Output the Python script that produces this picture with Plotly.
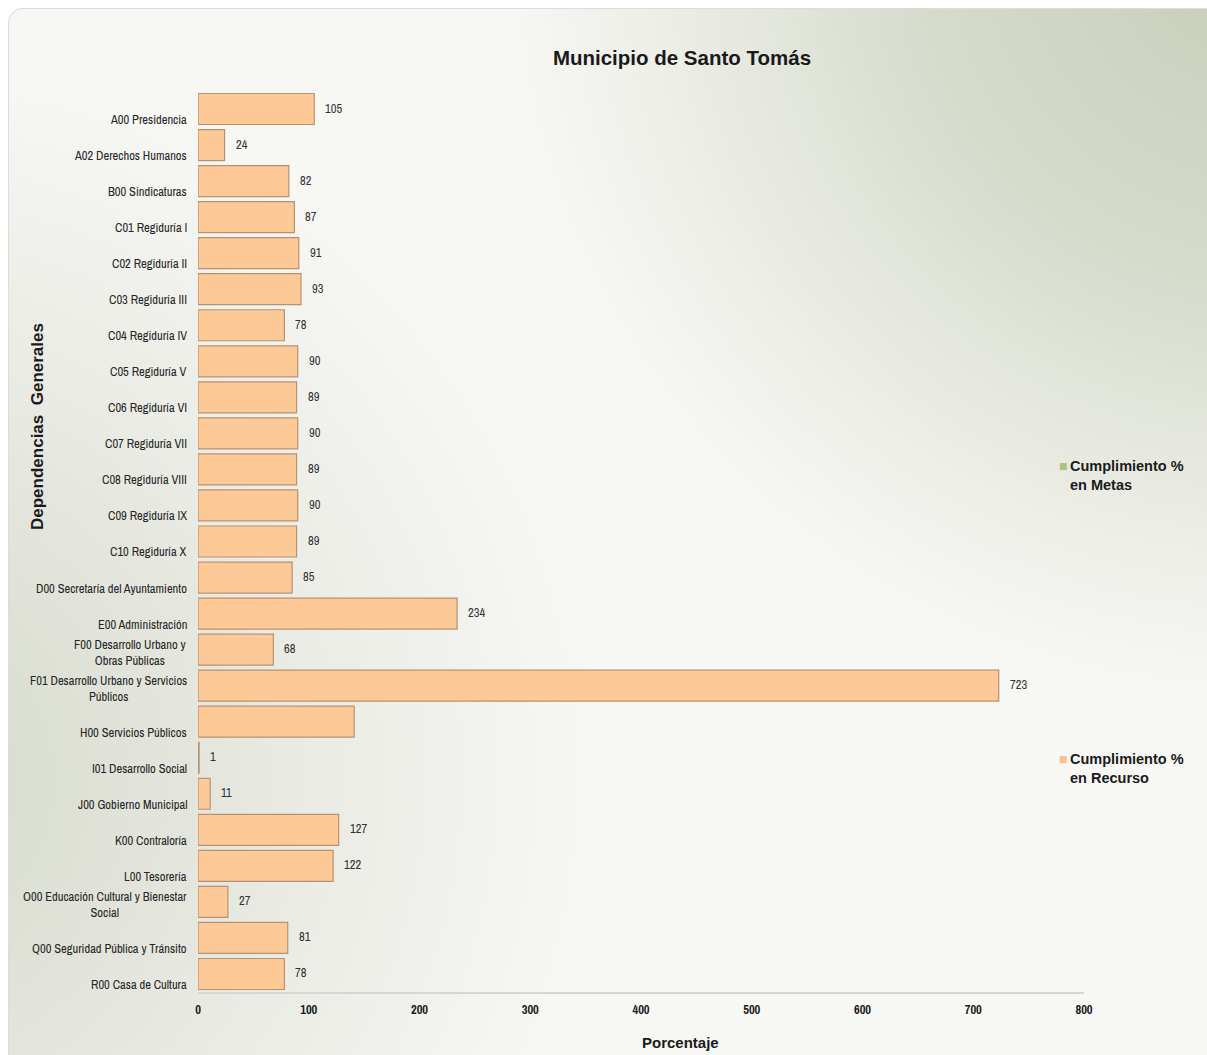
import base64
import plotly.graph_objects as go

# ---------------- data ----------------
categories = [
    "A00 Presidencia",
    "A02 Derechos Humanos",
    "B00 Sindicaturas",
    "C01 Regiduría I",
    "C02 Regiduría II",
    "C03 Regiduría III",
    "C04 Regiduría IV",
    "C05 Regiduría V",
    "C06 Regiduría VI",
    "C07 Regiduría VII",
    "C08 Regiduría VIII",
    "C09 Regiduría IX",
    "C10 Regiduría X",
    "D00 Secretaría del Ayuntamiento",
    "E00 Administración",
    "F00 Desarrollo Urbano y<br>Obras Públicas",
    "F01 Desarrollo Urbano y Servicios<br>Públicos",
    "H00 Servicios Públicos",
    "I01 Desarrollo Social",
    "J00 Gobierno Municipal",
    "K00 Contraloría",
    "L00 Tesorería",
    "O00 Educación Cultural y Bienestar<br>Social",
    "Q00 Seguridad Pública y Tránsito",
    "R00 Casa de Cultura",
]
recurso = [105, 24, 82, 87, 91, 93, 78, 90, 89, 90, 89, 90, 89, 85, 234, 68, 723,
           141, 1, 11, 127, 122, 27, 81, 78]
recurso_labels = ["105", "24", "82", "87", "91", "93", "78", "90", "89", "90", "89",
                  "90", "89", "85", "234", "68", "723", "", "1", "11", "127", "122",
                  "27", "81", "78"]
metas = [0, 0, 0, 0, 0, 0, 0, 0, 0, 0, 0, 0, 0, 0, 0, 0, 0, 0, 0, 0, 0, 0, 0, 0, 0]
x_ticks = [0, 100, 200, 300, 400, 500, 600, 700, 800]
series_names = ["Cumplimiento %<br>en Metas", "Cumplimiento %<br>en Recurso"]
title_text = "Municipio de Santo Tomás"
x_title = "Porcentaje"
y_title = "Dependencias  Generales"

# ---------------- layout geometry ----------------
W, H = 1207, 1055
L, R, T, B = 198, 123, 88, 63
PW, PH = W - L - R, H - T - B

def px_x(p):
    return (p - L) / PW

def px_y(p):
    return (H - B - p) / PH

NARROW = "Liberation Sans Narrow, Arial Narrow, Archivo Narrow, DejaVu Sans Condensed, sans-serif"
BOLD = "Liberation Sans, Arial, sans-serif"

svg = f"""<svg xmlns='http://www.w3.org/2000/svg' width='{W}' height='{H}' viewBox='0 0 {W} {H}'>
<defs>
<radialGradient id='g1' gradientUnits='userSpaceOnUse' cx='1260' cy='-60' r='760'>
<stop offset='0' stop-color='#c4cdb6'/><stop offset='0.45' stop-color='#d0d6c5' stop-opacity='0.85'/><stop offset='1' stop-color='#d8dccd' stop-opacity='0'/></radialGradient>
<radialGradient id='g2' gradientUnits='userSpaceOnUse' cx='-120' cy='780' r='720'>
<stop offset='0' stop-color='#d3d7c9'/><stop offset='1' stop-color='#d8dbcf' stop-opacity='0'/></radialGradient>
<clipPath id='c'><rect x='8.5' y='8.5' width='1240' height='1090' rx='14'/></clipPath>
</defs>
<g clip-path='url(#c)'>
<rect width='{W}' height='{H}' fill='#f7f7f4'/>
<rect width='{W}' height='{H}' fill='url(#g1)'/>
<rect width='{W}' height='{H}' fill='url(#g2)'/>
</g>
<rect x='8.5' y='8.5' width='1240' height='1090' rx='14' fill='none' stroke='#dcdcdc'/>
</svg>"""
svg_uri = "data:image/svg+xml;base64," + base64.b64encode(svg.encode("utf-8")).decode()

fig = go.Figure()

fig.add_trace(go.Bar(
    y=categories, x=metas, orientation="h", name="Cumplimiento % en Metas",
    marker=dict(color="#9bbb59", line=dict(width=0)), width=0.86,
    showlegend=False, hoverinfo="skip",
))
fig.add_trace(go.Bar(
    y=categories, x=recurso, orientation="h", name="Cumplimiento % en Recurso",
    marker=dict(color="#fdc997", line=dict(color="#b89270", width=1.2)), width=0.86,
    showlegend=False,
))

annotations = []
# category labels (bottom-aligned within each band, as in the reference)
for c in categories:
    annotations.append(dict(
        x=0, xref="paper", y=c, yref="y", xanchor="right", yanchor="bottom",
        xshift=-9, yshift=-21, text=c, showarrow=False, align="center",
        font=dict(family=NARROW, size=12.5, color="#262626"),
    ))
# value labels
for c, v, lab in zip(categories, recurso, recurso_labels):
    if lab:
        annotations.append(dict(
            x=v, y=c, xref="x", yref="y", xanchor="left", yanchor="middle",
            xshift=9, yshift=1, text=lab, showarrow=False,
            font=dict(family=NARROW, size=12.5, color="#333333"),
        ))
# axis titles
annotations.append(dict(
    x=px_x(37), y=px_y(427), xref="paper", yref="paper", text=f"<b>{y_title}</b>",
    textangle=-90, showarrow=False, xanchor="center", yanchor="middle",
    font=dict(family=BOLD, size=17, color="#1a1a1a"),
))
annotations.append(dict(
    x=px_x(680), y=px_y(1042), xref="paper", yref="paper", text=f"<b>{x_title}</b>",
    showarrow=False, xanchor="center", yanchor="middle",
    font=dict(family=BOLD, size=15, color="#1a1a1a"),
))
# legend entries
legend_pos = [466, 759]
legend_cols = ["#a9c47f", "#f9bf8c"]
for name, ypx, col in zip(series_names, legend_pos, legend_cols):
    annotations.append(dict(
        x=px_x(1063), y=px_y(ypx), xref="paper", yref="paper", text="■",
        showarrow=False, xanchor="center", yanchor="middle",
        font=dict(family="DejaVu Sans", size=9, color=col),
    ))
    annotations.append(dict(
        x=px_x(1068), y=px_y(ypx - 10), xref="paper", yref="paper", text=f"<b>{name}</b>",
        showarrow=False, xanchor="left", yanchor="top", align="left",
        font=dict(family=BOLD, size=14.5, color="#1a1a1a"),
    ))

fig.update_layout(
    width=W, height=H,
    margin=dict(l=L, r=R, t=T, b=B),
    paper_bgcolor="white",
    plot_bgcolor="rgba(0,0,0,0)",
    barmode="overlay",
    title=dict(text=f"<b>{title_text}</b>", x=682 / W, xanchor="center",
               y=1 - 58 / H, yanchor="middle",
               font=dict(family=BOLD, size=20.5, color="#1a1a1a")),
    xaxis=dict(range=[0, 800], tickvals=x_ticks, ticktext=[f"<b>{t}</b>" for t in x_ticks],
               showgrid=False, zeroline=False, showline=True, linecolor="#d6d6d6",
               linewidth=1.5, ticks="", ticklabelstandoff=5,
               tickfont=dict(family=NARROW, size=12.5, color="#1a1a1a")),
    yaxis=dict(autorange="reversed", showticklabels=False, showgrid=False,
               zeroline=False, showline=False, ticks=""),
    annotations=annotations,
    images=[dict(source=svg_uri, xref="paper", yref="paper",
                 x=px_x(0), y=px_y(0), sizex=W / PW, sizey=H / PH,
                 xanchor="left", yanchor="top", sizing="stretch", layer="below")],
    showlegend=False,
)

fig.write_html("out.html")
